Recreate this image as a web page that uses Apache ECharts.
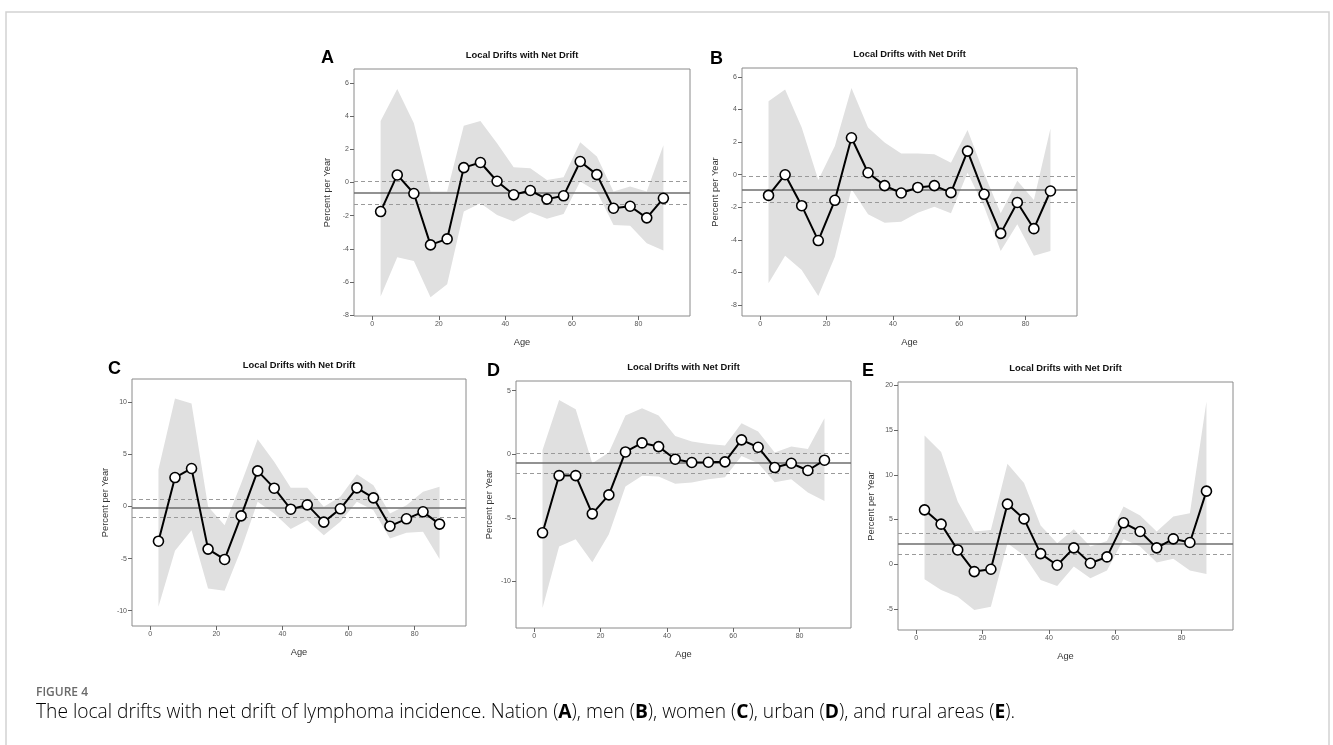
<!DOCTYPE html>
<html>
<head>
<meta charset="utf-8">
<title>Local drifts with net drift</title>
<script src="https://cdn.jsdelivr.net/npm/echarts@6/dist/echarts.min.js"></script>
<style>
  html, body { margin: 0; padding: 0; background: #fff; }
  #chart { width: 1333px; height: 745px; }
</style>
</head>
<body>
<div id="chart"></div>
<script>
// age group mid-points, shared by all panels
const ages = [2.5, 7.5, 12.5, 17.5, 22.5, 27.5, 32.5, 37.5, 42.5, 47.5, 52.5, 57.5, 62.5, 67.5, 72.5, 77.5, 82.5, 87.5]
const xTicks = [0, 20, 40, 60, 80]

// A - nation
const driftA = [-1.75, 0.46, -0.66, -3.76, -3.40, 0.90, 1.21, 0.08, -0.74, -0.48, -1.00, -0.80, 1.27, 0.48, -1.55, -1.43, -2.13, -0.95]
const upperA = [3.72, 5.65, 3.58, -0.54, -0.54, 3.42, 3.72, 2.37, 0.93, 0.87, 0.16, 0.32, 2.43, 1.57, -0.54, -0.24, -0.54, 2.25]
const lowerA = [-6.88, -4.50, -4.73, -6.92, -6.14, -1.75, -1.25, -1.95, -2.35, -1.79, -2.19, -1.89, 0.06, -0.54, -2.56, -2.60, -3.66, -4.10]
const netA = [-0.62, -1.31, 0.06] // net drift, lower CI, upper CI
const yTicksA = [-8, -6, -4, -2, 0, 2, 4, 6]

// B - men
const driftB = [-1.27, 0.00, -1.90, -4.04, -1.57, 2.27, 0.12, -0.67, -1.12, -0.78, -0.67, -1.10, 1.45, -1.20, -3.60, -1.70, -3.31, -1.00]
const upperB = [4.51, 5.23, 2.90, -0.33, 1.76, 5.33, 2.90, 1.98, 1.31, 1.31, 1.25, 0.74, 2.74, 0.08, -2.37, -0.37, -1.55, 2.84]
const lowerB = [-6.66, -4.98, -5.84, -7.44, -5.03, -0.88, -2.43, -2.94, -2.88, -2.33, -1.96, -2.37, 0.12, -1.96, -4.68, -3.04, -4.98, -4.68]
const netB = [-0.92, -1.68, -0.12]
const yTicksB = [-8, -6, -4, -2, 0, 2, 4, 6]

// C - women
const driftC = [-3.33, 2.78, 3.65, -4.09, -5.08, -0.90, 3.42, 1.76, -0.26, 0.16, -1.50, -0.22, 1.79, 0.83, -1.89, -1.18, -0.51, -1.69]
const upperC = [3.55, 10.36, 9.88, 0.00, -1.80, 2.20, 6.46, 4.29, 1.79, 1.79, -0.03, 0.93, 3.10, 2.05, -0.67, 0.13, 1.41, 1.89]
const lowerC = [-9.63, -4.25, -2.27, -7.87, -8.09, -4.13, 0.45, -0.67, -2.17, -1.31, -2.75, -1.47, 0.45, -0.35, -3.07, -2.53, -2.43, -5.05]
const netC = [-0.16, -0.99, 0.70]
const yTicksC = [-10, -5, 0, 5, 10]

// D - urban
const driftD = [-6.18, -1.68, -1.68, -4.69, -3.20, 0.18, 0.89, 0.60, -0.39, -0.65, -0.63, -0.60, 1.13, 0.55, -1.05, -0.71, -1.28, -0.47]
const upperD = [0.34, 4.27, 3.54, -0.71, 0.13, 3.04, 3.62, 3.04, 1.44, 1.00, 0.81, 0.68, 2.44, 1.78, 0.13, 0.60, 0.42, 2.83]
const lowerD = [-12.10, -7.26, -6.68, -8.49, -6.29, -2.54, -1.70, -1.76, -2.33, -2.23, -1.96, -1.81, -0.13, -0.71, -2.20, -1.96, -3.01, -3.67]
const netD = [-0.71, -1.47, 0.08]
const yTicksD = [-10, -5, 0, 5]

// E - rural
const driftE = [6.08, 4.48, 1.60, -0.82, -0.56, 6.72, 5.07, 1.19, -0.11, 1.83, 0.11, 0.82, 4.63, 3.66, 1.83, 2.84, 2.43, 8.17]
const upperE = [14.40, 12.54, 7.01, 3.66, 3.84, 11.23, 9.07, 4.33, 2.35, 3.92, 1.98, 2.61, 6.46, 5.45, 3.66, 5.34, 5.71, 18.20]
const lowerE = [-1.68, -2.87, -3.62, -5.11, -4.74, 2.35, 0.97, -1.75, -2.43, -0.26, -1.57, -0.71, 2.80, 1.98, 0.19, 0.60, -0.71, -1.08]
const netE = [2.28, 1.12, 3.43]
const yTicksE = [-5, 0, 5, 10, 15, 20]

const panelTitle = 'Local Drifts with Net Drift'

// layout of the five plot boxes
const panels = [
  { letter: 'A', drift: driftA, upper: upperA, lower: lowerA, net: netA, yTicks: yTicksA,
    left: 354, top: 69, width: 336, height: 247, yMin: -8.05, yMax: 6.85, letterX: 321, letterY: 58 },
  { letter: 'B', drift: driftB, upper: upperB, lower: lowerB, net: netB, yTicks: yTicksB,
    left: 742, top: 68, width: 335, height: 248, yMin: -8.67, yMax: 6.55, letterX: 710, letterY: 59 },
  { letter: 'C', drift: driftC, upper: upperC, lower: lowerC, net: netC, yTicks: yTicksC,
    left: 132, top: 379, width: 334, height: 247, yMin: -11.47, yMax: 12.24, letterX: 108, letterY: 369 },
  { letter: 'D', drift: driftD, upper: upperD, lower: lowerD, net: netD, yTicks: yTicksD,
    left: 516, top: 381, width: 335, height: 247, yMin: -13.67, yMax: 5.76, letterX: 487, letterY: 371 },
  { letter: 'E', drift: driftE, upper: upperE, lower: lowerE, net: netE, yTicks: yTicksE,
    left: 898, top: 382, width: 335, height: 248, yMin: -7.35, yMax: 20.37, letterX: 862, letterY: 371 }
]

const chart = echarts.init(document.getElementById('chart'))

const grid = []
const xAxis = []
const yAxis = []
const series = []
const graphic = [{
  type: 'rect',
  shape: { x: 6, y: 12, width: 1323, height: 800 },
  style: { fill: 'none', stroke: '#d2d2d2', lineWidth: 1.5 },
  silent: true
}]

const tickLabel = { fontSize: 7, color: '#555', fontFamily: 'Liberation Sans, Arial' }
const axisName = { fontSize: 9.3, color: '#333', fontFamily: 'Liberation Sans, Arial' }

panels.forEach(function(p, i) {
  grid.push({
    left: p.left, top: p.top, width: p.width, height: p.height,
    show: true, borderColor: '#8a8a8a', borderWidth: 1, backgroundColor: 'transparent'
  })
  xAxis.push({
    type: 'value', gridIndex: i, min: -5.5, max: 95.5,
    name: 'Age', nameLocation: 'middle', nameGap: 22, nameTextStyle: axisName,
    axisLine: { show: false, onZero: false },
    axisTick: { show: true, length: 4, lineStyle: { color: '#666' }, customValues: xTicks },
    axisLabel: Object.assign({ customValues: xTicks, margin: 5 }, tickLabel),
    splitLine: { show: false }
  })
  yAxis.push({
    type: 'value', gridIndex: i, min: p.yMin, max: p.yMax,
    name: 'Percent per Year', nameLocation: 'middle', nameGap: 22, nameRotate: 90, nameTextStyle: axisName,
    axisLine: { show: false, onZero: false },
    axisTick: { show: true, length: 4, lineStyle: { color: '#666' }, customValues: p.yTicks },
    axisLabel: Object.assign({ customValues: p.yTicks, margin: 5 }, tickLabel),
    splitLine: { show: false }
  })

  // confidence band of the local drifts
  series.push({
    type: 'custom',
    xAxisIndex: i, yAxisIndex: i,
    silent: true, z: 1,
    data: ages.map(function(a, k) { return [a, p.lower[k], p.upper[k]] }),
    encode: { x: 0, y: [1, 2] },
    renderItem: function(params, api) {
      if (params.dataIndex !== 0) return
      const pts = []
      ages.forEach(function(a, k) { pts.push(api.coord([a, p.upper[k]])) })
      for (let k = ages.length - 1; k >= 0; k--) pts.push(api.coord([ages[k], p.lower[k]]))
      return { type: 'polygon', shape: { points: pts }, style: { fill: '#e0e0e0' } }
    }
  })

  // local drifts + net drift lines
  series.push({
    type: 'line',
    xAxisIndex: i, yAxisIndex: i,
    z: 6,
    data: ages.map(function(a, k) { return [a, p.drift[k]] }),
    symbol: 'circle', symbolSize: 10, showSymbol: true,
    lineStyle: { color: '#000', width: 2 },
    itemStyle: { color: '#fff', borderColor: '#000', borderWidth: 1.6 },
    markLine: {
      silent: true, symbol: 'none', z: 3,
      label: { show: false },
      data: [
        { yAxis: p.net[0], lineStyle: { type: 'solid', color: '#6e6e6e', width: 1.6 } },
        { yAxis: p.net[1], lineStyle: { type: [4, 3], color: '#9a9a9a', width: 1.2 } },
        { yAxis: p.net[2], lineStyle: { type: [4, 3], color: '#9a9a9a', width: 1.2 } }
      ]
    }
  })

  graphic.push({
    type: 'text', x: p.left + p.width / 2, y: p.top - 14,
    style: { text: panelTitle, fontSize: 9.4, fontWeight: 'bold', fontFamily: 'Liberation Sans, Arial',
      fill: '#111', align: 'center', verticalAlign: 'middle' }
  })
  graphic.push({
    type: 'text', x: p.letterX, y: p.letterY,
    style: { text: p.letter, fontSize: 18, fontWeight: 'bold', fontFamily: 'Liberation Sans, Arial',
      fill: '#000', align: 'left', verticalAlign: 'middle' }
  })
})

graphic.push({
  type: 'text', x: 36, y: 693,
  style: { text: 'FIGURE 4', fontSize: 12, fontWeight: 600, fontFamily: 'Open Sans',
    fill: '#6a6a6a', align: 'left', verticalAlign: 'middle' }
})
graphic.push({
  type: 'text', x: 36, y: 713,
  style: {
    text: '{n|The local drifts with net drift of lymphoma incidence. Nation (}{b|A}{n|), men (}{b|B}{n|), women (}{b|C}{n|), urban (}{b|D}{n|), and rural areas (}{b|E}{n|).}',
    align: 'left', verticalAlign: 'middle',
    rich: {
      n: { fontSize: 19.2, fontWeight: 300, fontFamily: 'Open Sans', color: '#7a7a7a' },
      b: { fontSize: 19.2, fontFamily: 'Open Sans', fontWeight: 'bold', color: '#666' }
    }
  }
})

chart.setOption({
  animation: false,
  grid: grid,
  xAxis: xAxis,
  yAxis: yAxis,
  series: series,
  graphic: graphic
})
</script>
</body>
</html>
